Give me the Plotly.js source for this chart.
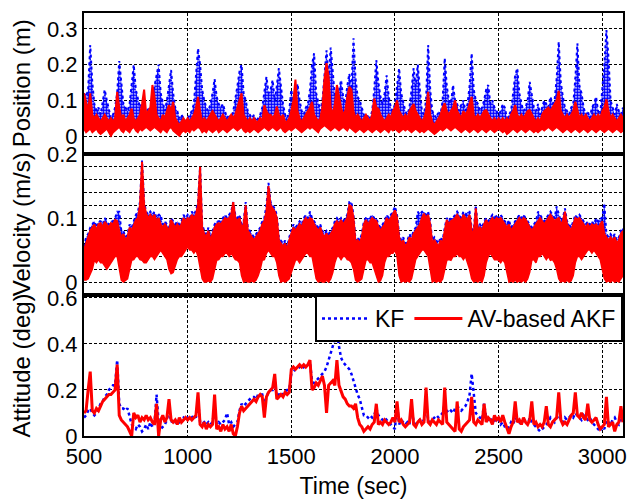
<!DOCTYPE html>
<html>
<head>
<meta charset="utf-8">
<script src="https://cdn.plot.ly/plotly-3.0.1.min.js"></script>
<style>html,body{margin:0;padding:0;background:#fff;}#chart{width:628px;height:499px;}</style>
</head>
<body>
<div id="chart"></div>
<script>
// Sampling of every series: first time (sec) and step (sec)
const timeStart = 500;
const timeStep = 10;
const xTickVals = [500, 1000, 1500, 2000, 2500, 3000];
const xTickText = ['500', '1000', '1500', '2000', '2500', '3000'];
const seriesNames = ['KF', 'AV-based AKF'];
const panelTitles = ['Position (m)', 'Velocity (m/s)', 'Attitude (deg)'];
const xTitle = 'Time (sec)';

// ---- Position error (m): upper / lower envelope of the dense traces ----
const posKfHi = [
.12,.11,.13,.255,.15,.09,.07,.08,.06,.09,
.13,.10,.07,.05,.06,.08,.12,.21,.15,.09,
.08,.07,.09,.14,.20,.13,.10,.08,.09,.07,
.06,.08,.07,.11,.14,.17,.20,.12,.09,.07,
.10,.15,.185,.12,.08,.07,.05,.06,.05,.04,
.05,.06,.07,.09,.16,.245,.20,.13,.10,.08,
.07,.09,.12,.16,.11,.09,.08,.09,.07,.05,
.06,.05,.07,.10,.14,.18,.20,.12,.10,.07,
.06,.05,.06,.04,.05,.06,.08,.12,.166,.12,
.13,.157,.10,.14,.19,.14,.09,.06,.05,.07,
.13,.09,.12,.147,.10,.07,.06,.08,.09,.13,
.20,.232,.12,.09,.07,.10,.17,.24,.16,.248,
.18,.11,.10,.13,.157,.11,.09,.14,.175,.13,
.274,.16,.11,.10,.08,.06,.05,.06,.05,.07,
.13,.213,.15,.11,.09,.12,.17,.11,.08,.07,
.09,.15,.19,.12,.09,.07,.06,.08,.13,.19,
.14,.20,.13,.07,.06,.10,.255,.13,.07,.06,
.05,.07,.06,.10,.218,.14,.10,.09,.143,.10,
.09,.07,.09,.10,.07,.09,.14,.232,.13,.10,
.09,.07,.08,.10,.13,.143,.09,.10,.08,.07,
.06,.07,.09,.08,.05,.06,.07,.12,.17,.19,
.12,.09,.07,.08,.10,.152,.11,.08,.07,.09,
.06,.08,.10,.09,.08,.11,.09,.10,.16,.264,
.15,.11,.08,.07,.06,.08,.09,.16,.26,.14,
.12,.08,.06,.07,.05,.08,.09,.11,.07,.06,
.12,.20,.297,.22,.10,.08,.06,.09,.07,.06,
.08];
const posKfLo = [
.025,.02,.02,.025,.015,.02,.025,.015,.01,.015,
.02,.025,.015,.01,.015,.02,.025,.03,.02,.015,
.025,.02,.015,.025,.03,.02,.015,.025,.02,.025,
.03,.025,.02,.025,.03,.025,.02,.015,.025,.02,
.015,.025,.03,.02,.015,.01,.005,.015,.02,.015,
.02,.015,.025,.02,.025,.03,.025,.015,.02,.015,
.025,.02,.015,.02,.025,.015,.02,.025,.02,.015,
.02,.025,.03,.025,.02,.025,.03,.02,.015,.02,
.015,.02,.025,.02,.015,.02,.025,.03,.025,.02,
.025,.03,.025,.02,.025,.03,.02,.015,.02,.025,
.02,.025,.03,.025,.02,.015,.02,.025,.03,.025,
.03,.025,.02,.015,.025,.03,.035,.03,.025,.02,
.025,.03,.025,.02,.025,.03,.025,.02,.03,.025,
.02,.015,.02,.025,.02,.015,.02,.025,.02,.015,
.02,.025,.02,.015,.02,.025,.02,.015,.025,.02,
.025,.02,.015,.02,.025,.02,.025,.02,.015,.02,
.025,.02,.015,.02,.015,.02,.025,.02,.015,.01,
.015,.02,.025,.02,.025,.03,.025,.02,.025,.03,
.025,.02,.015,.02,.025,.02,.015,.02,.025,.02,
.015,.02,.025,.02,.015,.02,.025,.02,.015,.02,
.025,.02,.015,.02,.01,.015,.02,.025,.02,.015,
.02,.025,.02,.015,.02,.025,.02,.015,.02,.015,
.02,.025,.02,.025,.03,.025,.02,.025,.03,.025,
.02,.015,.02,.025,.02,.015,.02,.025,.02,.015,
.02,.025,.02,.015,.02,.025,.02,.015,.02,.025,
.02,.015,.02,.025,.02,.015,.02,.025,.02,.015,
.02];
const posAkfHi = [
.12,.09,.07,.12,.06,.05,.06,.05,.04,.05,
.06,.05,.04,.05,.04,.05,.124,.08,.05,.06,
.04,.05,.06,.077,.05,.04,.05,.06,.09,.13,
.06,.07,.08,.143,.11,.06,.05,.04,.06,.05,
.07,.087,.07,.096,.05,.04,.03,.04,.05,.04,
.05,.04,.05,.06,.08,.11,.07,.04,.05,.04,
.05,.06,.07,.06,.05,.04,.05,.06,.05,.04,
.05,.06,.05,.06,.08,.10,.12,.06,.05,.04,
.05,.04,.05,.04,.04,.05,.04,.087,.07,.06,
.06,.05,.06,.083,.06,.05,.06,.04,.04,.05,
.07,.10,.158,.07,.05,.04,.05,.06,.07,.08,
.096,.06,.05,.04,.05,.08,.16,.204,.166,.08,
.06,.09,.143,.11,.08,.06,.07,.11,.138,.13,
.07,.05,.06,.05,.04,.05,.06,.05,.04,.06,
.105,.08,.077,.06,.05,.04,.05,.06,.05,.07,
.08,.10,.07,.06,.05,.06,.05,.07,.08,.09,
.07,.06,.05,.04,.05,.07,.124,.06,.04,.03,
.04,.05,.06,.08,.092,.07,.06,.07,.08,.10,
.07,.06,.05,.07,.06,.07,.09,.11,.06,.05,
.06,.05,.06,.07,.073,.06,.05,.04,.05,.04,
.05,.04,.05,.04,.05,.04,.06,.07,.087,.06,
.05,.06,.05,.06,.07,.073,.06,.05,.04,.05,
.04,.06,.07,.075,.08,.07,.08,.09,.10,.127,
.07,.06,.05,.06,.05,.06,.07,.096,.07,.05,
.06,.05,.06,.05,.04,.05,.06,.05,.06,.05,
.07,.08,.103,.07,.05,.06,.05,.04,.05,.06,
.05];
const posAkfLo = [
.02,.01,.015,.02,.01,.015,.02,.01,.005,.01,
.015,.02,.01,0,.01,.015,.02,.025,.015,.01,
.02,.015,.01,.02,.025,.015,.01,.02,.015,.02,
.025,.02,.015,.02,.025,.02,.015,.01,.02,.015,
.01,.02,.025,.015,.01,.005,0,.01,.015,.01,
.015,.01,.02,.015,.02,.025,.02,.01,.015,.01,
.02,.015,.01,.015,.02,.01,.015,.02,.015,.01,
.015,.02,.025,.02,.015,.02,.025,.015,.01,.015,
.01,.015,.02,.015,.01,.015,.02,.025,.02,.015,
.02,.025,.02,.015,.02,.025,.015,.01,.015,.02,
.015,.02,.025,.02,.015,.01,.015,.02,.025,.02,
.025,.02,.015,.01,.02,.025,.03,.025,.02,.015,
.02,.025,.02,.015,.02,.025,.02,.015,.025,.02,
.015,.01,.015,.02,.015,.01,.015,.02,.015,.01,
.015,.02,.015,.01,.015,.02,.015,.01,.02,.015,
.02,.015,.01,.015,.02,.015,.02,.015,.01,.015,
.02,.015,.01,.015,.01,.015,.02,.015,.01,.005,
.01,.015,.02,.015,.02,.025,.02,.015,.02,.025,
.02,.015,.01,.015,.02,.015,.01,.015,.02,.015,
.01,.015,.02,.015,.01,.015,.02,.015,.01,.015,
.02,.015,.01,.015,.005,.01,.015,.02,.015,.01,
.015,.02,.015,.01,.015,.02,.015,.01,.015,.01,
.015,.02,.015,.02,.025,.02,.015,.02,.025,.02,
.015,.01,.015,.02,.015,.01,.015,.02,.015,.01,
.015,.02,.015,.01,.015,.02,.015,.01,.015,.02,
.015,.01,.015,.02,.015,.01,.015,.02,.015,.01,
.015];

// ---- Velocity error (m/s): upper / lower envelope ----
const velKfHi = [
.055,.07,.075,.085,.09,.095,.085,.095,.095,.09,
.10,.095,.09,.095,.095,.10,.11,.11,.08,.08,
.07,.075,.09,.085,.095,.105,.11,.125,.19,.125,
.11,.105,.11,.105,.11,.10,.105,.105,.09,.095,
.09,.085,.10,.095,.09,.095,.09,.095,.105,.10,
.105,.10,.11,.105,.112,.125,.18,.09,.08,.075,
.085,.07,.08,.09,.095,.095,.095,.10,.105,.10,
.105,.11,.125,.105,.10,.105,.09,.095,.125,.085,
.08,.075,.07,.075,.08,.085,.095,.10,.12,.155,
.125,.12,.115,.105,.07,.065,.06,.065,.055,.07,
.08,.09,.085,.09,.095,.09,.10,.105,.10,.11,
.10,.095,.09,.085,.09,.08,.075,.08,.075,.08,
.085,.095,.10,.095,.10,.095,.10,.105,.125,.125,
.105,.065,.07,.065,.075,.095,.10,.10,.10,.105,
.10,.10,.09,.085,.09,.095,.105,.10,.105,.11,
.118,.105,.075,.065,.07,.06,.065,.075,.07,.08,
.085,.11,.105,.11,.11,.105,.11,.095,.065,.07,
.065,.06,.07,.065,.085,.10,.095,.10,.10,.105,
.11,.105,.10,.11,.105,.11,.11,.085,.08,.12,
.085,.09,.085,.095,.10,.095,.10,.105,.10,.105,
.10,.105,.10,.095,.09,.097,.085,.09,.095,.10,
.105,.10,.105,.10,.095,.09,.085,.09,.095,.11,
.105,.10,.095,.10,.105,.11,.105,.10,.118,.105,
.095,.10,.115,.095,.09,.085,.095,.105,.10,.105,
.10,.095,.09,.095,.09,.095,.09,.10,.095,.10,
.10,.123,.075,.07,.075,.07,.075,.065,.07,.08,
.085];
const velKfLo = [
.005,.005,.008,.015,.022,.036,.032,.037,.032,.032,
.027,.022,.027,.032,.037,.042,.042,.022,.005,.002,
.004,.007,.022,.036,.037,.042,.042,.037,.036,.032,
.032,.037,.042,.042,.037,.042,.047,.052,.047,.042,
.037,.022,.015,.017,.027,.037,.042,.042,.047,.052,
.057,.052,.052,.047,.052,.042,.022,.007,.002,.002,
.004,.002,.007,.022,.036,.037,.042,.042,.047,.047,
.042,.047,.042,.037,.036,.032,.012,.002,.004,.002,
.002,.004,.002,.005,.012,.022,.036,.037,.047,.052,
.047,.042,.042,.032,.012,.002,.004,.002,.004,.007,
.017,.027,.036,.037,.032,.037,.042,.047,.047,.042,
.042,.022,.007,.002,.004,.002,.002,.005,.002,.007,
.017,.032,.042,.042,.037,.042,.042,.037,.036,.032,
.022,.005,.002,.004,.007,.022,.036,.037,.032,.032,
.022,.012,.002,.004,.012,.032,.042,.042,.047,.047,
.052,.042,.012,.002,.004,.002,.004,.002,.007,.022,
.037,.042,.047,.052,.052,.047,.042,.022,.002,.004,
.002,.004,.002,.007,.022,.036,.037,.036,.042,.042,
.047,.042,.042,.037,.042,.032,.022,.007,.002,.004,
.002,.005,.002,.012,.032,.042,.047,.042,.037,.037,
.036,.032,.037,.032,.017,.002,.004,.002,.005,.002,
.004,.002,.005,.002,.007,.017,.036,.037,.032,.042,
.042,.047,.042,.037,.042,.036,.037,.032,.022,.007,
.002,.004,.002,.005,.002,.004,.012,.032,.042,.042,
.037,.042,.047,.052,.052,.047,.052,.047,.042,.037,
.022,.007,.002,.004,.002,.005,.002,.004,.002,.007,
.012];
const velAkfHi = [
.05,.06,.07,.08,.085,.09,.08,.09,.092,.085,
.094,.09,.085,.092,.09,.097,.095,.08,.07,.075,
.065,.07,.085,.08,.09,.097,.10,.12,.188,.12,
.107,.10,.105,.10,.105,.095,.10,.09,.085,.09,
.085,.08,.097,.09,.085,.09,.085,.09,.10,.095,
.10,.098,.105,.10,.105,.12,.18,.085,.075,.07,
.08,.065,.075,.085,.09,.092,.09,.095,.10,.098,
.10,.105,.125,.10,.095,.10,.085,.09,.12,.08,
.075,.07,.065,.07,.075,.08,.09,.095,.11,.15,
.12,.115,.11,.10,.065,.06,.055,.06,.05,.065,
.075,.085,.08,.086,.09,.085,.095,.10,.095,.10,
.098,.09,.085,.08,.085,.075,.07,.076,.07,.075,
.08,.09,.095,.09,.097,.09,.095,.10,.12,.118,
.10,.06,.065,.06,.07,.09,.097,.09,.095,.10,
.097,.095,.086,.08,.085,.09,.10,.095,.10,.105,
.112,.10,.07,.06,.065,.055,.06,.07,.065,.075,
.08,.085,.09,.10,.107,.10,.105,.09,.06,.065,
.06,.055,.065,.06,.08,.097,.09,.095,.097,.10,
.105,.10,.095,.105,.10,.098,.105,.08,.075,.115,
.08,.085,.08,.09,.097,.09,.095,.10,.095,.10,
.098,.10,.095,.09,.085,.09,.08,.085,.09,.095,
.10,.095,.10,.098,.09,.085,.08,.085,.09,.095,
.10,.095,.09,.095,.10,.105,.10,.095,.098,.10,
.09,.095,.11,.09,.085,.08,.09,.10,.098,.10,
.095,.09,.085,.09,.085,.09,.088,.09,.085,.09,
.095,.075,.07,.065,.07,.065,.07,.06,.065,.075,
.08];
const velAkfLo = [
.003,.003,.005,.013,.02,.034,.03,.035,.03,.03,
.025,.02,.025,.03,.035,.04,.04,.02,.003,0,
.002,.005,.02,.034,.035,.04,.04,.035,.034,.03,
.03,.035,.04,.04,.035,.04,.045,.05,.045,.04,
.035,.02,.013,.015,.025,.035,.04,.04,.045,.05,
.055,.05,.05,.045,.05,.04,.02,.005,0,0,
.002,0,.005,.02,.034,.035,.04,.04,.045,.045,
.04,.045,.04,.035,.034,.03,.01,0,.002,0,
0,.002,0,.003,.01,.02,.034,.035,.045,.05,
.045,.04,.04,.03,.01,0,.002,0,.002,.005,
.015,.025,.034,.035,.03,.035,.04,.045,.045,.04,
.04,.02,.005,0,.002,0,0,.003,0,.005,
.015,.03,.04,.04,.035,.04,.04,.035,.034,.03,
.02,.003,0,.002,.005,.02,.034,.035,.03,.03,
.02,.01,0,.002,.01,.03,.04,.04,.045,.045,
.05,.04,.01,0,.002,0,.002,0,.005,.02,
.035,.04,.045,.05,.05,.045,.04,.02,0,.002,
0,.002,0,.005,.02,.034,.035,.034,.04,.04,
.045,.04,.04,.035,.04,.03,.02,.005,0,.002,
0,.003,0,.01,.03,.04,.045,.04,.035,.035,
.034,.03,.035,.03,.015,0,.002,0,.003,0,
.002,0,.003,0,.005,.015,.034,.035,.03,.04,
.04,.045,.04,.035,.04,.034,.035,.03,.02,.005,
0,.002,0,.003,0,.002,.01,.03,.04,.04,
.035,.04,.045,.05,.05,.045,.05,.045,.04,.035,
.02,.005,0,.002,0,.003,0,.002,0,.005,
.01];

// ---- Attitude error (deg) ----
const attKf = [
.08,.09,.11,.12,.10,.09,.10,.12,.14,.15,
.17,.18,.20,.21,.22,.22,.33,.14,.12,.12,
.11,.12,.09,.05,.04,.03,.05,.04,.02,.03,
.05,.03,.06,.04,.05,.18,.06,.03,.04,.05,
.07,.12,.06,.07,.06,.07,.06,.07,.08,.07,
.08,.07,.08,.09,.08,.15,.06,.05,.06,.05,
.06,.05,.06,.12,.05,.06,.05,.06,.07,.10,
.05,.06,.04,.05,.06,.11,.14,.13,.14,.15,
.16,.17,.17,.16,.18,.18,.18,.13,.17,.19,
.20,.20,.24,.17,.18,.19,.18,.19,.20,.20,
.27,.28,.29,.29,.30,.29,.30,.30,.31,.32,
.24,.23,.24,.25,.26,.27,.28,.30,.33,.36,
.38,.41,.45,.39,.34,.32,.31,.30,.29,.27,
.24,.20,.18,.16,.12,.09,.09,.08,.09,.08,
.09,.12,.09,.08,.07,.08,.07,.06,.05,.04,
.03,.14,.05,.07,.06,.05,.06,.05,.13,.06,
.05,.06,.07,.06,.07,.14,.07,.06,.07,.08,
.09,.08,.09,.10,.14,.11,.10,.11,.10,.12,
.13,.12,.11,.12,.13,.15,.18,.27,.17,.10,
.09,.08,.07,.14,.08,.07,.06,.08,.07,.06,
.07,.05,.06,.04,.03,.04,.06,.05,.08,.07,
.06,.05,.07,.06,.05,.08,.06,.05,.04,.03,
.02,.03,.04,.05,.06,.08,.07,.06,.08,.09,
.07,.06,.08,.07,.08,.09,.08,.10,.09,.08,
.07,.09,.08,.07,.08,.06,.05,.04,.03,.02,
.04,.03,.07,.06,.05,.07,.08,.06,.05,.07,
.08];
const attAkf = [
.10,.11,.20,.28,.11,.10,.12,.11,.13,.15,
.16,.17,.18,.18,.19,.20,.31,.09,.07,.06,
.05,.04,.02,0,.10,.08,.09,.06,.08,.07,
.09,.07,.08,.06,.05,.14,0,.07,.09,.06,
.08,.16,.07,.06,.07,.05,.08,.06,.07,.08,
.07,.08,.07,.08,.09,.19,.05,.04,.06,.03,
.05,.04,.05,.18,.03,.04,.02,.05,.03,.04,
.02,.05,.01,0,.04,.10,.13,.11,.12,.13,
.14,.15,.16,.15,.17,.18,.17,.08,.17,.19,
.20,.21,.27,.16,.17,.18,.17,.19,.18,.19,
.29,.30,.29,.30,.31,.30,.31,.30,.31,.33,
.20,.21,.23,.22,.24,.26,.22,.10,.22,.23,
.24,.22,.33,.22,.19,.17,.16,.14,.13,.13,
.12,.14,.08,.05,.04,.02,.03,.04,.03,.05,
.06,.14,.05,.06,.05,.07,.06,.05,.06,.08,
.06,.15,.06,.07,.05,.04,.05,.06,.16,.05,
.04,.06,.07,.05,.06,.21,.06,.05,.07,.06,
.05,.07,.06,.05,.21,.06,.05,.04,.03,.02,
.15,.03,.02,.04,.05,.06,.07,.17,.06,.05,
.07,.06,.05,.14,.06,.08,.07,.05,.09,.07,
.08,.06,.09,.06,.03,.01,.04,.06,.15,.06,
.07,.05,.08,.06,.05,.07,.15,.05,.06,.04,
.05,.04,.06,.13,.05,.04,.06,.07,.08,.19,
.07,.05,.06,.05,.07,.09,.10,.19,.09,.08,
.10,.08,.07,.14,.07,.06,.07,.08,.05,.03,
.04,.05,.17,.04,.05,.06,.02,.05,.06,.13,
.06];

const BLUE = '#0000ff';
const RED = '#ff0000';

function base(y, xa, ya) {
  return {y: y, x0: timeStart, dx: timeStep, xaxis: xa, yaxis: ya, type: 'scatter',
          mode: 'lines', hoverinfo: 'skip', showlegend: false};
}
function bandTraces(kfLo, kfHi, akfLo, akfHi, xa, ya) {
  return [
    Object.assign(base(kfLo, xa, ya), {line: {color: BLUE, width: 0}}),
    Object.assign(base(kfHi, xa, ya), {line: {color: BLUE, width: 2, dash: 'dot'}, fill: 'tonexty',
      fillcolor: 'rgba(0,0,255,0.0)',
      fillpattern: {shape: '.', fgcolor: BLUE, bgcolor: 'rgba(255,255,255,0)', size: 3, solidity: 0.75}}),
    Object.assign(base(akfLo, xa, ya), {line: {color: RED, width: 1.5}}),
    Object.assign(base(akfHi, xa, ya), {line: {color: RED, width: 2}, fill: 'tonexty', fillcolor: RED})
  ];
}

const traces = [].concat(
  bandTraces(posKfLo, posKfHi, posAkfLo, posAkfHi, 'x', 'y'),
  bandTraces(velKfLo, velKfHi, velAkfLo, velAkfHi, 'x2', 'y2'),
  [
    Object.assign(base(attKf, 'x3', 'y3'), {name: seriesNames[0], showlegend: true,
      line: {color: BLUE, width: 2.5, dash: 'dot'}}),
    Object.assign(base(attAkf, 'x3', 'y3'), {name: seriesNames[1], showlegend: true,
      line: {color: RED, width: 3}})
  ]
);

const FONT = 'Liberation Sans, Arial, Helvetica, sans-serif';
const TICKFONT = {size: 22, family: FONT, color: '#000'};
function xAxis(anchor, showLabels) {
  const a = {anchor: anchor, domain: [0, 1], range: [500, 3100], tickvals: xTickVals, ticktext: xTickText,
    showticklabels: showLabels, showgrid: true, gridcolor: '#000', gridwidth: 1, griddash: '3px,2px',
    showline: true, mirror: true, linecolor: '#000', linewidth: 2, ticks: '', zeroline: false,
    tickfont: TICKFONT};
  if (showLabels) a.title = {text: xTitle, font: {size: 23, family: FONT, color: '#000'}, standoff: 10};
  return a;
}
function yAxis(anchor, domain, range, vals, text, title) {
  return {anchor: anchor, domain: domain, range: range, tickvals: vals, ticktext: text,
    showgrid: true, gridcolor: '#000', gridwidth: 1, griddash: '3px,2px',
    showline: true, mirror: true, linecolor: '#000', linewidth: 2, ticks: '', zeroline: false,
    tickfont: TICKFONT,
    title: {text: title, font: {size: 24, family: FONT, color: '#000'}, standoff: 10}};
}

const layout = {
  width: 628, height: 499,
  margin: {l: 84, r: 5, t: 13, b: 63},
  paper_bgcolor: '#fff', plot_bgcolor: '#fff',
  font: {family: FONT, size: 20, color: '#000'},
  showlegend: true,
  legend: {orientation: 'h', traceorder: 'normal', x: 1, xanchor: 'right', y: 0.3335, yanchor: 'top',
    itemwidth: 48,
    bordercolor: '#000', borderwidth: 2, bgcolor: '#fff', font: {size: 23, family: FONT, color: '#000'}},
  xaxis: xAxis('y', false),
  xaxis2: xAxis('y2', false),
  xaxis3: xAxis('y3', true),
  yaxis: yAxis('x', [0.6675, 1], [-0.049, 0.3445], [0, 0.1, 0.2, 0.3], ['0', '0.1', '0.2', '0.3'], panelTitles[0]),
  yaxis2: yAxis('x2', [0.3345, 0.6665], [-0.0195, 0.2],
    [0, 0.02, 0.04, 0.06, 0.08, 0.1, 0.12, 0.14, 0.16, 0.18, 0.2],
    ['0', '', '', '', '', '0.1', '', '', '', '', '0.2'], panelTitles[1]),
  yaxis3: yAxis('x3', [0, 0.3335], [0, 0.613], [0, 0.2, 0.4, 0.6], ['0', '0.2', '0.4', '0.6'], panelTitles[2])
};

Plotly.newPlot('chart', traces, layout, {displayModeBar: false, staticPlot: true});
</script>
</body>
</html>
